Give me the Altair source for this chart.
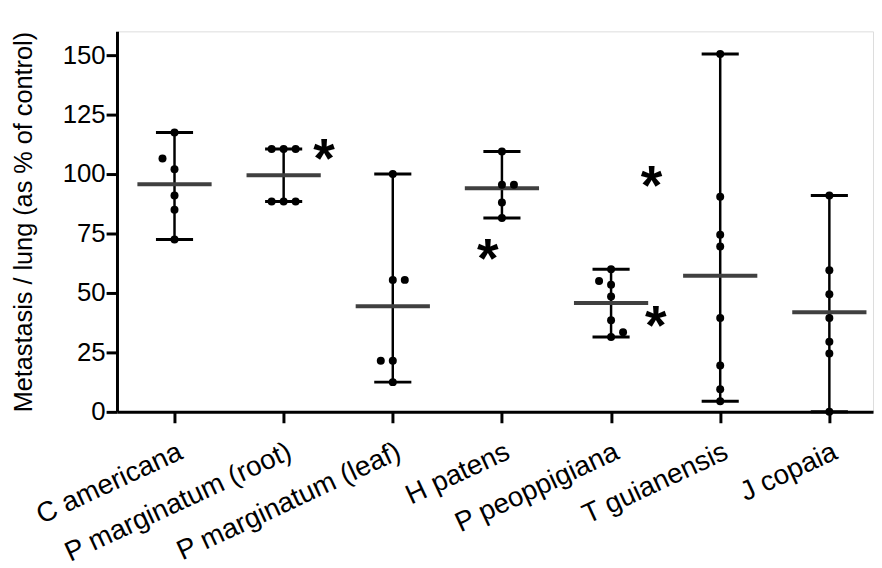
import json
import altair as alt
import pandas as pd

# ---------------- data ----------------
categories = ["C americana", "P marginatum (root)", "P marginatum (leaf)",
              "H patens", "P peoppigiana", "T guianensis", "J copaia"]

c_americana = [117.5, 106.5, 102.0, 91.0, 85.0, 72.5]
p_marg_root = [110.5, 110.5, 110.5, 88.5, 88.5, 88.5]
p_marg_leaf = [100.0, 55.5, 55.5, 21.5, 21.5, 12.5]
h_patens = [109.5, 95.5, 95.5, 88.0, 81.5]
p_peoppigiana = [60.0, 55.0, 53.5, 48.5, 38.5, 33.5, 31.5]
t_guianensis = [150.5, 90.5, 74.5, 69.5, 39.5, 19.5, 9.5, 4.5]
j_copaia = [91.0, 59.5, 49.5, 39.5, 29.5, 24.5, 0.0]

# side-by-side slot of each dot (-1 left, 0 centre, 1 right)
c_americana_slot = [0, -1, 0, 0, 0, 0]
p_marg_root_slot = [-1, 0, 1, -1, 0, 1]
p_marg_leaf_slot = [0, 0, 1, -1, 0, 0]
h_patens_slot = [0, 0, 1, 0, 0]
p_peoppigiana_slot = [0, -1, 0, 0, 0, 1, 0]
t_guianensis_slot = [0, 0, 0, 0, 0, 0, 0, 0]
j_copaia_slot = [0, 0, 0, 0, 0, 0, 0]

# significance asterisks (category position, value)
star_pos = [1.37, 2.87, 4.37, 4.41]
star_val = [110.5, 68.5, 99.0, 40.3]

y_ticks = [0, 25, 50, 75, 100, 125, 150]

# ---------------- tables ----------------
groups = [c_americana, p_marg_root, p_marg_leaf, h_patens,
          p_peoppigiana, t_guianensis, j_copaia]
slots = [c_americana_slot, p_marg_root_slot, p_marg_leaf_slot, h_patens_slot,
         p_peoppigiana_slot, t_guianensis_slot, j_copaia_slot]

DOT_STEP = 0.11
MEAN_HALF = 0.34
CAP_HALF = 0.17

pts = []
summ = []
for i, (vals, sl) in enumerate(zip(groups, slots)):
    for v, s in zip(vals, sl):
        pts.append({"x": i + s * DOT_STEP, "v": v})
    m = sum(vals) / len(vals)
    summ.append({"x": i, "mean": m, "lo": min(vals), "hi": max(vals),
                 "ml": i - MEAN_HALF, "mr": i + MEAN_HALF,
                 "cl": i - CAP_HALF, "cr": i + CAP_HALF})
pts = pd.DataFrame(pts)
summ = pd.DataFrame(summ)
stars = pd.DataFrame({"x": star_pos, "v": star_val, "t": ["*"] * len(star_pos)})

FONT = "Liberation Sans"
xscale = alt.Scale(domain=[-0.527, 6.4], nice=False, zero=False)
yscale = alt.Scale(domain=[0, 160], nice=False)

label_expr = json.dumps(categories) + "[datum.value]"

x_axis = alt.Axis(values=list(range(len(categories))), labelExpr=label_expr,
                  labelAngle=335, labelAlign="right", labelBaseline="top",
                  labelPadding=15, labelFontSize=28, labelFont=FONT,
                  labelColor="black", labelLimit=1000, title=None, grid=False,
                  domainColor="black", domainWidth=3, tickColor="black",
                  tickWidth=3, tickSize=11, labelOverlap=False)
y_axis = alt.Axis(values=y_ticks, labelFontSize=26, labelFont=FONT,
                  labelColor="black", labelPadding=1, grid=False,
                  domainColor="black", domainWidth=3, tickColor="black",
                  tickWidth=3, tickSize=11,
                  title="Metastasis / lung (as % of control)",
                  titleFont=FONT, titleFontSize=25.5, titleFontWeight="normal",
                  titleColor="black", titlePadding=26)

vline = alt.Chart(summ).mark_rule(color="black", strokeWidth=2.5).encode(
    x=alt.X("x:Q", scale=xscale, axis=x_axis),
    y=alt.Y("lo:Q", scale=yscale, axis=y_axis), y2="hi:Q")
cap_hi = alt.Chart(summ).mark_rule(color="black", strokeWidth=3).encode(
    x=alt.X("cl:Q", scale=xscale), x2="cr:Q", y=alt.Y("hi:Q", scale=yscale))
cap_lo = alt.Chart(summ).mark_rule(color="black", strokeWidth=3).encode(
    x=alt.X("cl:Q", scale=xscale), x2="cr:Q", y=alt.Y("lo:Q", scale=yscale))
mean_line = alt.Chart(summ).mark_rule(color="#404040", strokeWidth=4).encode(
    x=alt.X("ml:Q", scale=xscale), x2="mr:Q", y=alt.Y("mean:Q", scale=yscale))
dots = alt.Chart(pts).mark_circle(color="black", size=65, opacity=1).encode(
    x=alt.X("x:Q", scale=xscale), y=alt.Y("v:Q", scale=yscale))
star_marks = alt.Chart(stars).mark_text(
    font=FONT, fontSize=56, fontWeight="bold", color="black",
    align="center", baseline="middle", dy=11).encode(
    x=alt.X("x:Q", scale=xscale), y=alt.Y("v:Q", scale=yscale), text="t:N")

chart = alt.layer(vline, cap_hi, cap_lo, mean_line, dots, star_marks).properties(
    width=763, height=384,
    autosize=alt.AutoSizeParams(type="none"),
    padding={"left": 110, "top": 21, "right": 1, "bottom": 155},
).configure_view(stroke=None).configure(background="white")

chart.save("out.html", embed_options={"renderer": "svg", "actions": False})
